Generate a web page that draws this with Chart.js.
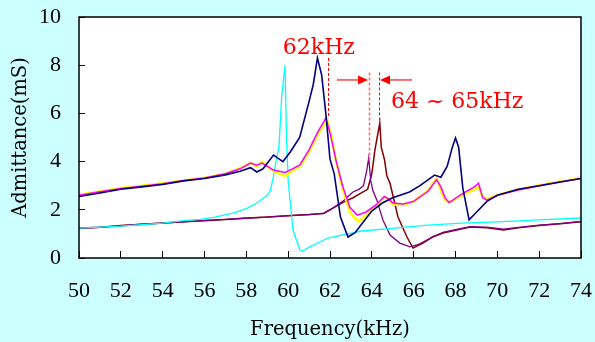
<!DOCTYPE html>
<html>
<head>
<meta charset="utf-8">
<script src="https://cdn.jsdelivr.net/npm/chart.js@4"></script>
<style>
  html, body { margin: 0; padding: 0; background: #ccffff; }
  #wrap { width: 595px; height: 342px; }
</style>
</head>
<body>
<div id="wrap"><canvas id="chart" width="595" height="342"></canvas></div>
<script>
// frequency (kHz) / admittance (mS)
var navyFreq = [50, 51, 52, 53, 54, 55, 56, 57, 57.7, 58.2, 58.5, 58.8, 59.3, 59.75, 60.1, 60.55, 61.0, 61.2, 61.4, 61.6, 61.8, 62.0, 62.2, 62.5, 62.86, 63.2, 63.6, 64.0, 64.5, 65.0, 65.8, 66.3, 67.0, 67.3, 67.6, 67.85, 68.0, 68.15, 68.35, 68.65, 69.0, 69.5, 70, 71, 72, 73, 74];
var navyVal = [2.55, 2.7, 2.85, 2.95, 3.05, 3.2, 3.3, 3.45, 3.6, 3.75, 3.57, 3.7, 4.27, 4.0, 4.4, 5.0, 6.5, 7.2, 8.3, 7.6, 6.0, 4.1, 3.5, 1.7, 0.87, 1.05, 1.5, 1.95, 2.28, 2.5, 2.74, 3.0, 3.44, 3.35, 3.8, 4.6, 4.98, 4.6, 2.9, 1.58, 1.9, 2.35, 2.6, 2.85, 3.0, 3.15, 3.3];

var cyanFreq = [50, 51, 52, 53, 54, 55, 55.8, 56.5, 57.4, 58, 58.5, 59, 59.15, 59.3, 59.43, 59.56, 59.69, 59.85, 59.92, 60.0, 60.23, 60.56, 60.7, 61.0, 61.9, 63.5, 65.1, 66.5, 68.3, 70, 72, 74];
var cyanVal = [1.24, 1.28, 1.32, 1.38, 1.45, 1.55, 1.6, 1.7, 1.87, 2.05, 2.28, 2.6, 2.8, 3.4, 4.07, 4.6, 6.7, 8.0, 5.0, 3.2, 1.16, 0.33, 0.29, 0.45, 0.83, 1.12, 1.24, 1.35, 1.45, 1.5, 1.58, 1.66];

var maroonFreq = [50, 51, 52, 53, 54, 55, 56, 57, 58, 59, 60, 61, 61.7, 62.1, 62.6, 63.1, 63.5, 63.8, 64.0, 64.15, 64.38, 64.45, 64.6, 64.72, 64.87, 65.25, 65.68, 65.97, 66.4, 66.9, 67.4, 68, 68.7, 69.5, 70.3, 71, 72, 73, 74];
var maroonVal = [1.24, 1.28, 1.35, 1.4, 1.45, 1.5, 1.55, 1.6, 1.65, 1.7, 1.75, 1.8, 1.85, 2.05, 2.3, 2.5, 2.7, 2.85, 3.5, 4.5, 5.6, 4.6, 4.1, 3.4, 3.1, 1.7, 0.87, 0.41, 0.6, 0.87, 1.04, 1.15, 1.29, 1.25, 1.16, 1.25, 1.35, 1.42, 1.5];

var purpleFreq = [50, 51, 52, 53, 54, 55, 56, 57, 58, 59, 60, 61, 61.7, 62.1, 62.6, 63.1, 63.4, 63.6, 63.75, 63.85, 63.95, 64.05, 64.24, 64.53, 64.87, 65.34, 65.82, 66.2, 66.9, 67.4, 68, 68.7, 69.5, 70.3, 71, 72, 73, 74];
var purpleVal = [1.22, 1.27, 1.33, 1.4, 1.45, 1.5, 1.56, 1.6, 1.66, 1.7, 1.76, 1.8, 1.86, 2.05, 2.35, 2.74, 2.86, 3.0, 3.6, 4.15, 3.2, 2.8, 2.4, 1.58, 0.95, 0.62, 0.46, 0.55, 0.87, 1.06, 1.18, 1.3, 1.28, 1.2, 1.27, 1.36, 1.43, 1.52];

var magentaFreq = [50, 51, 52, 53, 54, 55, 56, 57, 57.7, 58.2, 58.5, 58.75, 59.3, 59.85, 60.2, 60.56, 61.0, 61.4, 61.8, 62.0, 62.3, 62.6, 62.95, 63.3, 63.7, 64.2, 64.6, 64.8, 65.0, 65.5, 66.0, 66.7, 67.1, 67.3, 67.5, 67.7, 68.2, 68.9, 69.1, 69.3, 69.5, 70, 71, 72, 73, 74];
var magentaVal = [2.6, 2.75, 2.88, 2.98, 3.08, 3.22, 3.32, 3.5, 3.7, 3.94, 3.85, 3.94, 3.65, 3.55, 3.7, 3.86, 4.5, 5.2, 5.8, 5.2, 4.0, 3.0, 2.1, 1.78, 1.9, 2.2, 2.55, 2.45, 2.28, 2.24, 2.35, 2.78, 3.25, 2.95, 2.5, 2.3, 2.6, 2.95, 3.1, 2.5, 2.4, 2.6, 2.82, 3.0, 3.15, 3.3];

var yellowFreq = [50, 51, 52, 53, 54, 55, 56, 57, 57.7, 58.2, 58.5, 58.75, 59.3, 59.85, 60.2, 60.56, 61.0, 61.4, 61.85, 62.05, 62.3, 62.6, 62.95, 63.35, 63.7, 64.2, 64.6, 64.8, 65.0, 65.5, 66.0, 66.7, 67.1, 67.3, 67.5, 67.7, 68.2, 68.9, 69.1, 69.3, 69.5, 70, 71, 72, 73, 74];
var yellowVal = [2.62, 2.76, 2.9, 3.0, 3.1, 3.22, 3.33, 3.5, 3.72, 3.95, 3.8, 4.0, 3.6, 3.4, 3.62, 3.8, 4.4, 5.1, 5.75, 5.1, 4.0, 2.9, 1.9, 1.5, 1.75, 2.15, 2.55, 2.4, 2.22, 2.2, 2.35, 2.8, 3.32, 2.8, 2.4, 2.3, 2.55, 2.85, 2.95, 2.55, 2.45, 2.62, 2.84, 3.02, 3.17, 3.32];

var yTicks = [0, 2, 4, 6, 8, 10];
var xTicks = [50, 52, 54, 56, 58, 60, 62, 64, 66, 68, 70, 72, 74];

// annotation marks (kHz / mS)
var markerFreq = [61.9, 63.86, 64.35];
var markerTop = [8.3, 7.7, 7.7];
var markerBottom = [5.8, 4.0, 5.6];
var arrowFrom = [62.33, 65.92];
var arrowTo = [63.82, 64.39];
var arrowLevel = 7.39;
var noteText = ['62kHz', '64 ~ 65kHz'];
var noteFreq = [61.47, 68.08];
var noteLevel = [8.46, 6.21];

function zip(xs, ys) {
    return xs.map(function(x, i) { return {x: x, y: ys[i]}; });
}

function line(label, xs, ys, color, width) {
    return {
        label: label,
        data: zip(xs, ys),
        borderColor: color,
        borderWidth: width,
        pointRadius: 0,
        tension: 0,
        fill: false
    };
}

var backdrop = {
    id: 'backdrop',
    beforeDraw: function(chart) {
        var ctx = chart.ctx, a = chart.chartArea;
        ctx.save();
        ctx.fillStyle = '#ccffff';
        ctx.fillRect(0, 0, chart.width, chart.height);
        ctx.fillStyle = '#ffffff';
        ctx.fillRect(a.left, a.top, a.right - a.left, a.bottom - a.top);
        ctx.restore();
    },
    afterDraw: function(chart) {
        var ctx = chart.ctx, a = chart.chartArea;
        var xs = chart.scales.x, ys = chart.scales.y;
        ctx.save();
        ctx.strokeStyle = '#000000';
        ctx.lineWidth = 1.5;
        ctx.strokeRect(a.left, a.top, a.right - a.left, a.bottom - a.top);

        // dashed marker lines
        ctx.setLineDash([3, 2]);
        markerFreq.forEach(function(f, i) {
            var px = Math.round(xs.getPixelForValue(f)) + 0.5;
            ctx.strokeStyle = i === 1 ? '#ff6f6f' : '#ff0000';
            ctx.lineWidth = i === 1 ? 1.6 : 1;
            ctx.beginPath();
            ctx.moveTo(px, ys.getPixelForValue(markerTop[i]));
            ctx.lineTo(px, ys.getPixelForValue(markerBottom[i]));
            ctx.stroke();
        });
        ctx.setLineDash([]);

        // arrows
        var ay = ys.getPixelForValue(arrowLevel);
        arrowFrom.forEach(function(f, i) {
            var x1 = xs.getPixelForValue(f), x2 = xs.getPixelForValue(arrowTo[i]);
            var dir = x2 > x1 ? 1 : -1;
            var base = x2 - dir * 10;
            ctx.strokeStyle = '#ff6a6a';
            ctx.lineWidth = 2;
            ctx.beginPath();
            ctx.moveTo(x1, ay);
            ctx.lineTo(base, ay);
            ctx.stroke();
            ctx.fillStyle = '#ff0000';
            ctx.beginPath();
            ctx.moveTo(x2, ay);
            ctx.lineTo(base, ay - 4.5);
            ctx.lineTo(base, ay + 4.5);
            ctx.closePath();
            ctx.fill();
        });

        // labels
        ctx.fillStyle = '#ff0000';
        ctx.font = '22px "DejaVu Serif"';
        ctx.textAlign = 'center';
        ctx.textBaseline = 'alphabetic';
        noteText.forEach(function(t, i) {
            ctx.fillText(t, xs.getPixelForValue(noteFreq[i]), ys.getPixelForValue(noteLevel[i]));
        });
        ctx.restore();
    }
};

var ctx = document.getElementById('chart').getContext('2d');
new Chart(ctx, {
    type: 'line',
    data: {
        datasets: [
            line('navy', navyFreq, navyVal, '#000080', 1.6),
            line('magenta', magentaFreq, magentaVal, '#ff00ff', 1.5),
            line('yellow', yellowFreq, yellowVal, '#ffff00', 2.5),
            line('cyan', cyanFreq, cyanVal, '#00ffff', 1.3),
            line('purple', purpleFreq, purpleVal, '#800080', 1.3),
            line('maroon', maroonFreq, maroonVal, '#800000', 1.5)
        ]
    },
    options: {
        responsive: false,
        animation: false,
        layout: { padding: { left: 0, top: 17, right: 14, bottom: 0 } },
        scales: {
            x: {
                type: 'linear',
                min: 50,
                max: 74,
                afterBuildTicks: function(scale) {
                    scale.ticks = xTicks.map(function(v) { return {value: v}; });
                },
                afterFit: function(scale) {
                    scale.height = 84;
                    scale.paddingLeft = 0;
                    scale.paddingRight = 0;
                },
                grid: { drawOnChartArea: false, drawTicks: true, tickLength: -7, color: '#000000' },
                border: { display: false },
                ticks: {
                    color: '#000000',
                    padding: 27,
                    maxRotation: 0,
                    font: { family: 'Liberation Serif', size: 22 }
                },
                title: {
                    display: true,
                    text: 'Frequency(kHz)',
                    color: '#000000',
                    padding: { top: 0, bottom: 0 },
                    font: { family: 'DejaVu Serif', size: 19.5, lineHeight: 1.2 }
                }
            },
            y: {
                min: 0,
                max: 10,
                afterBuildTicks: function(scale) {
                    scale.ticks = yTicks.map(function(v) { return {value: v}; });
                },
                afterFit: function(scale) {
                    scale.width = 79;
                    scale.paddingTop = 0;
                    scale.paddingBottom = 0;
                },
                grid: { drawOnChartArea: false, drawTicks: true, tickLength: -6, color: '#000000' },
                border: { display: false },
                ticks: {
                    color: '#000000',
                    padding: 24,
                    font: { family: 'Liberation Serif', size: 22 }
                },
                title: {
                    display: true,
                    text: 'Admittance(mS)',
                    color: '#000000',
                    padding: { top: 9, bottom: 0 },
                    font: { family: 'DejaVu Serif', size: 19.5, lineHeight: 1.2 }
                }
            }
        },
        plugins: {
            legend: { display: false },
            tooltip: { enabled: false }
        }
    },
    plugins: [backdrop]
});
</script>
</body>
</html>
